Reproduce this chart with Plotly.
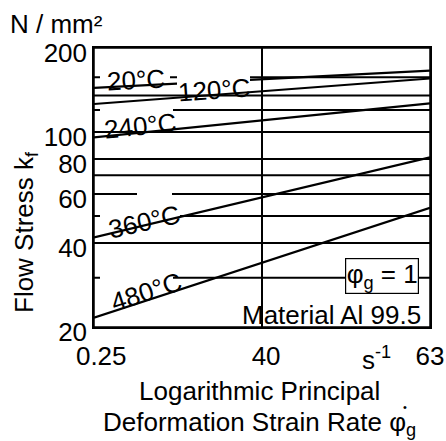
import math
import plotly.graph_objects as go

# ---- data ----
strain_rate = [0.25, 63]                 # s^-1, ends of each flow-stress line
kf_20 = [143.8, 165.9]
kf_120 = [126.0, 155.5]
kf_240 = [95.7, 126.7]
kf_360 = [41.9, 81.1]
kf_480 = [21.6, 53.5]
temps = ["20°C", "120°C", "240°C", "360°C", "480°C"]

x_tickvals = [0.25, 4, 63]
x_ticktext = ["\u00a0\u00a00.25", "\u00a040", "63"]
y_tickvals = [20, 40, 60, 80, 100, 200]
y_ticktext = ["20", "40", "60", "80", "100", "200"]
y_grid = [30, 40, 50, 60, 70, 80, 100, 120, 135, 157]

FONT = "Liberation Sans, Arial, sans-serif"
FS = 26

W, H = 446, 441
L, R, T, B = 94, 430, 48, 327          # plot area in pixels


def px(xp):
    return (xp - L) / (R - L)


def py(yp):
    return (B - yp) / (B - T)


fig = go.Figure()
for series in [kf_20, kf_120, kf_240, kf_360, kf_480]:
    fig.add_trace(go.Scatter(x=strain_rate, y=series, mode="lines",
                             line=dict(color="black", width=2.2),
                             showlegend=False, hoverinfo="skip"))

shapes = []
for v in y_grid:
    shapes.append(dict(type="line", xref="paper", yref="y", x0=0, x1=1, y0=v, y1=v,
                       line=dict(color="black", width=2), layer="between"))
# white masks hiding grid lines under labels (between grid and traces)
for (x0, x1, y0, y1) in [(100, 170, 71, 84), (100, 173, 105, 115), (137, 172, 188, 198),
                         (100, 180, 211, 221), (100, 173, 273, 283), (255, 270, 292, 325.5)]:
    shapes.append(dict(type="rect", xref="paper", yref="paper", x0=px(x0), x1=px(x1),
                       y0=py(y1), y1=py(y0), fillcolor="white", line=dict(width=0),
                       layer="between"))
# mask hiding 20°C curve below the 120°C label
shapes.append(dict(type="rect", xref="paper", yref="paper", x0=px(177), x1=px(250),
                   y0=py(87), y1=py(70), fillcolor="white", line=dict(width=0), layer="above"))
# plot frame
shapes.append(dict(type="rect", xref="paper", yref="paper", x0=0, x1=1, y0=0, y1=1,
                   line=dict(color="black", width=1.5), fillcolor="rgba(0,0,0,0)", layer="above"))

ann = []


def add(text, x, y, size=FS, angle=0, xanchor="center", yanchor="middle", **kw):
    ann.append(dict(text=text, xref="paper", yref="paper", x=px(x), y=py(y), showarrow=False,
                    font=dict(family=FONT, size=size, color="black"), textangle=angle,
                    xanchor=xanchor, yanchor=yanchor, **kw))


add("20°C", 136, 80, angle=-3)
add("120°C", 214, 90, angle=-4)
add("240°C", 140, 126, angle=-6)
add("360°C", 144, 222, angle=-13)
add("480°C", 146, 292, angle=-18)
add("φ<sub>g</sub> = 1", 382, 276, bgcolor="white", bordercolor="black", borderwidth=1.2,
    borderpad=0, width=72, height=34)
add("Material Al 99.5", 423, 315, xanchor="right")
add("N / mm²", 8, 24, xanchor="left")
add("Flow Stress k<sub>f</sub>", 25, 232, angle=-90)
add("s<sup>-1</sup>", 376, 358)
add("Logarithmic Principal", 259, 391)
add("Deformation Strain Rate φ<sub>g</sub>", 259, 423)
add("•", 405, 407, size=11)

fig.update_layout(
    width=W, height=H, autosize=False,
    margin=dict(l=L, r=W - R, t=T, b=H - B),
    paper_bgcolor="white", plot_bgcolor="white",
    font=dict(family=FONT, size=FS, color="black"),
    shapes=shapes, annotations=ann,
    xaxis=dict(type="log", range=[math.log10(0.25), math.log10(63)],
               tickmode="array", tickvals=x_tickvals, ticktext=x_ticktext,
               tickfont=dict(size=FS), showgrid=True, gridcolor="black", gridwidth=2,
               showline=True, mirror=True, linecolor="black", linewidth=1.5,
               ticks="", zeroline=False, automargin=False, ticklabelstandoff=5,
               ticklabeloverflow="allow"),
    yaxis=dict(type="log", range=[math.log10(20), math.log10(200)],
               tickmode="array", tickvals=y_tickvals, ticktext=y_ticktext,
               tickfont=dict(size=FS), showgrid=False,
               showline=True, mirror=True, linecolor="black", linewidth=1.5,
               ticks="", zeroline=False, ticklabelshift=5, automargin=False,
               ticklabeloverflow="allow"),
)

fig.write_html("out.html", config={"displayModeBar": False},
               post_script="document.body.style.margin='0';document.body.style.overflow='hidden';")
